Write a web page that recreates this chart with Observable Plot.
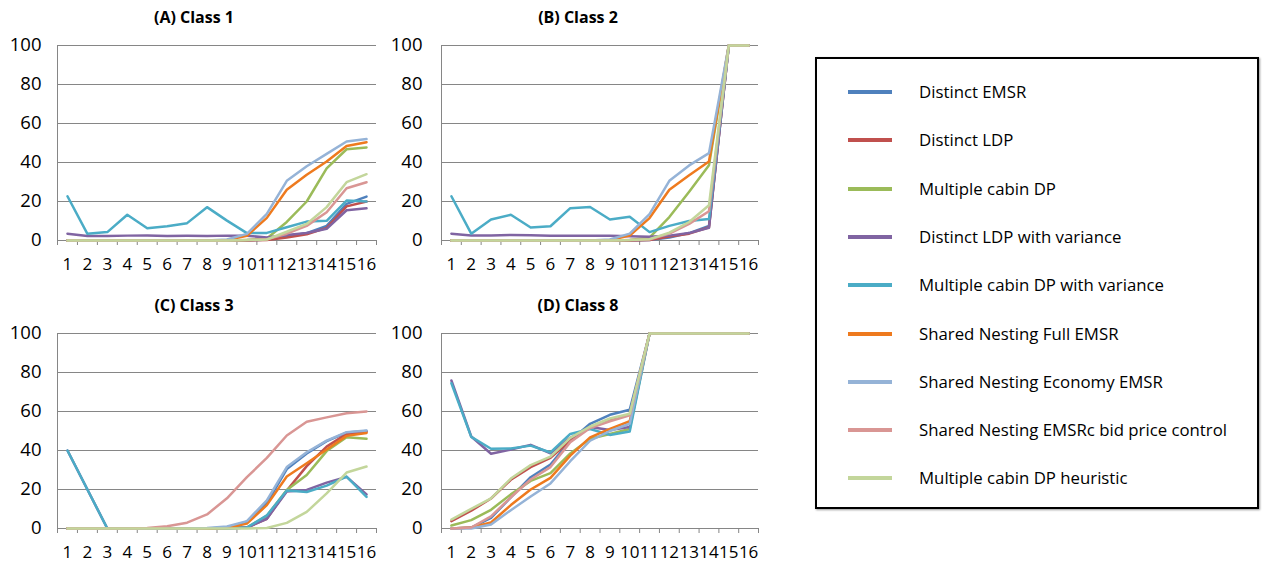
<!DOCTYPE html>
<html><head><meta charset="utf-8">
<script src="https://cdn.jsdelivr.net/npm/d3@7"></script>
<script src="https://cdn.jsdelivr.net/npm/@observablehq/plot@0.6"></script>
<style>
body{margin:0;background:#fff;font-family:"Open Sans",sans-serif;}
#root{position:relative;width:1265px;height:565px;overflow:hidden;}
.panel{position:absolute;}
.title{position:absolute;font-weight:bold;font-size:16px;text-align:center;width:380px;line-height:20px;color:#000;}
#legend{position:absolute;left:815px;top:57px;width:440px;height:448px;border:2px solid #000;box-shadow:1px 1px 2px #999;background:#fff;}
.lrow{position:absolute;left:0;height:20px;}
.sw{position:absolute;left:31px;top:8px;width:44px;height:4px;}
.lt{position:absolute;left:102px;top:-2px;font-size:16.8px;white-space:nowrap;color:#000;line-height:24px;}
</style></head><body><div id="root"></div>
<script>
const seriesNames = ["Distinct EMSR","Distinct LDP","Multiple cabin DP","Distinct LDP with variance","Multiple cabin DP with variance","Shared Nesting Full EMSR","Shared Nesting Economy EMSR","Shared Nesting EMSRc bid price control","Multiple cabin DP heuristic"];
const seriesColors = ["#4F81BD","#C0504D","#9BBB59","#8064A2","#4BACC6","#EE7A1E","#95B3D7","#D99694","#C3D69B"];
const categories = [1,2,3,4,5,6,7,8,9,10,11,12,13,14,15,16];
const yTicks = [0,20,40,60,80,100];
const panelTitles = ["(A) Class 1","(B) Class 2","(C) Class 3","(D) Class 8"];

const class1 = [
  [0,0,0,0,0,0,0,0,0,0,0.5,2,3.8,7.5,18.8,22.5],
  [0,0,0,0,0,0,0,0,0,0,0.2,1.5,3.2,6.5,17.5,20],
  [0,0,0,0,0,0,0,0,0,0.3,1,9.5,20,37,46.8,47.7],
  [3.5,2.3,2.3,2.5,2.6,2.3,2.4,2.3,2.5,2.4,1.6,2.8,3.8,6,15.5,16.5],
  [22.7,3.4,4.3,13.2,6.3,7.3,8.9,17.1,10.2,3.8,3.9,6.8,9.7,10.1,20.5,20],
  [0,0,0,0,0,0,0,0,0.3,2.4,11.6,26,33.7,40.5,48.5,50.4],
  [0,0,0,0,0,0,0,0,0.5,3.4,13.7,30.6,38.1,44.4,50.8,52],
  [0,0,0,0,0,0,0,0,0,0.3,0.6,3.5,7.5,14.5,26.8,29.9],
  [0,0,0,0,0,0,0,0,0,0.2,0.5,4.5,8.5,17.1,29.9,34]
];
const class2 = [
  [0,0,0,0,0,0,0,0,0,0,0.3,1.5,3.8,7.5,100,100],
  [0,0,0,0,0,0,0,0,0,0,0.3,2,3.5,6.8,100,100],
  [0,0,0,0,0,0,0,0,0,0.3,1.5,12,25,38.6,100,100],
  [3.5,2.6,2.6,2.8,2.7,2.4,2.4,2.4,2.4,2.2,1.9,2.5,3.8,6.5,100,100],
  [22.7,3.5,10.8,13.2,6.7,7.3,16.6,17.2,10.8,12.2,4.3,7.5,10,11,100,100],
  [0,0,0,0,0,0,0,0,0.3,2.5,11.5,26,33.5,40.5,100,100],
  [0,0,0,0,0,0,0,0,0.5,3.5,13.5,30.6,38.5,44.8,100,100],
  [0,0,0,0,0,0,0,0,0,0.2,0.5,3.5,8.5,15,100,100],
  [0,0,0,0,0,0,0,0,0,0.2,0.7,4,9.5,18.1,100,100]
];
const class3 = [
  [0,0,0,0,0,0,0,0,0.5,3.5,13,30.5,38.5,44.8,49.2,50],
  [0,0,0,0,0,0,0,0,0.2,0.5,5,19.5,32,42,48.5,49.5],
  [0,0,0,0,0,0,0,0,0.2,0.5,6.5,19.8,27.4,39.7,46.8,46],
  [40,20,0,0,0,0,0,0,0,0.5,5,19,19.8,23.5,26.5,17.5],
  [40,20,0,0,0,0,0,0,0,0.5,6.7,19.5,18.7,22,26.6,16.2],
  [0,0,0,0,0,0,0,0,0.3,2.5,12,26.7,33.5,40.5,47.5,49],
  [0,0,0,0,0,0,0,0.3,1,3.8,14.4,31.5,39.1,45.1,49.4,50.3],
  [0,0,0,0,0.3,1.2,3,7.2,15.5,26.3,36.2,47.7,54.7,57,59.1,60],
  [0,0,0,0,0,0,0,0,0,0,0.3,2.9,8.5,18,28.7,31.8]
];
const class8 = [
  [0,0.5,5.5,16,26.3,32.8,45,53.7,58.3,60.9,100,100,100,100,100,100],
  [3.8,9.1,15.4,25,31.5,36.2,45,52,55.5,58.5,100,100,100,100,100,100],
  [1.5,4.3,9.6,17.5,24.4,28.4,38.5,46,48.5,51,100,100,100,100,100,100],
  [75.9,47.2,38.3,40.5,42.9,38.6,46.5,52,50.5,52,100,100,100,100,100,100],
  [74.5,47,40.9,41,42.5,39,48.5,51,48,49.7,100,100,100,100,100,100],
  [0,0.5,3.1,12,20,26,37.4,46.7,51.1,55,100,100,100,100,100,100],
  [0,0,2,9.4,16.4,23.1,34.5,45,50,53.7,100,100,100,100,100,100],
  [0,0.5,6.2,16,25.1,31.5,44.3,51.5,55,58,100,100,100,100,100,100],
  [4.6,10.1,15.4,25.6,32.5,36.9,46.5,52.3,56.4,58.8,100,100,100,100,100,100]
];

const root = document.getElementById("root");
const FONT = "'Open Sans', sans-serif";
const boundaries = d3.range(0.5, 17, 1);

function panel(values, title, left, top, marginRight, yPad) {
  const rows = [];
  seriesNames.forEach((s, i) => values[i].forEach((v, j) => rows.push({series: s, x: categories[j], y: v})));
  const chart = Plot.plot({
    width: 380, height: 260,
    marginLeft: 57, marginRight, marginTop: 15, marginBottom: 50,
    x: {type: "linear", domain: [0.5, 16.5], axis: null, label: null},
    y: {domain: [0, 100], axis: null, label: null},
    color: {domain: seriesNames, range: seriesColors},
    style: {fontFamily: FONT, fontSize: "17px", color: "#000", background: "transparent", overflow: "visible"},
    marks: [
      Plot.gridY(yTicks, {stroke: "#868686", strokeOpacity: 1, strokeWidth: 1}),
      Plot.ruleX([0.5], {stroke: "#868686"}),
      Plot.axisX(boundaries, {tickSize: 5, tickFormat: () => "", stroke: "#868686", strokeOpacity: 1, label: null}),
      Plot.axisX(categories, {tickSize: 0, tickPadding: 17, fontSize: 17, label: null}),
      Plot.axisY(yTicks, {tickSize: 0, tickPadding: yPad, fontSize: 18.5, label: null}),
      Plot.line(rows, {x: "x", y: "y", z: "series", stroke: "series", strokeWidth: 2.5, strokeLinejoin: "round"})
    ]
  });
  chart.classList.add("panel");
  chart.style.left = left + "px";
  chart.style.top = top + "px";
  root.appendChild(chart);
  const t = document.createElement("div");
  t.className = "title";
  t.textContent = title;
  t.style.left = (left + 4) + "px";
  t.style.top = (top - 23) + "px";
  root.appendChild(t);
}

panel(class1, panelTitles[0], 0, 30, 4, 16);
panel(class2, panelTitles[1], 384, 30, 6, 19);
panel(class3, panelTitles[2], 0, 318, 4, 16);
panel(class8, panelTitles[3], 384, 318, 6, 19);

const legend = document.createElement("div");
legend.id = "legend";
seriesNames.forEach((s, i) => {
  const row = document.createElement("div");
  row.className = "lrow";
  row.style.top = (23 + i * 48.3) + "px";
  const sw = document.createElement("div");
  sw.className = "sw";
  sw.style.background = seriesColors[i];
  const lt = document.createElement("div");
  lt.className = "lt";
  lt.textContent = s;
  row.appendChild(sw); row.appendChild(lt);
  legend.appendChild(row);
});
root.appendChild(legend);
</script></body></html>
